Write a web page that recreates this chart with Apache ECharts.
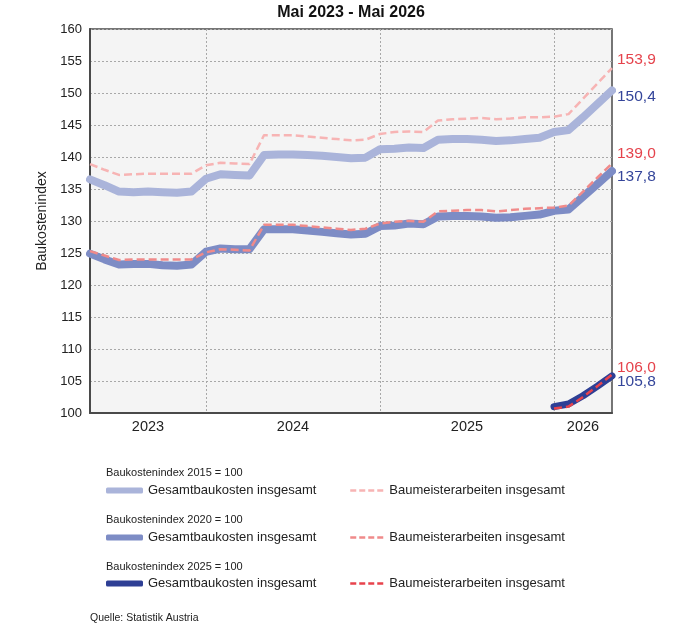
<!DOCTYPE html>
<html lang="de">

<head>
  <meta charset="UTF-8">
  <title>Baukostenindex</title>
  <style>
    * {
      margin: 0;
      padding: 0;
    }
    body {
      width: 682px;
      height: 627px;
      background-color: #ffffff;
    }
    #main {
      width: 682px;
      height: 627px;
    }
  </style>
</head>

<body>
  <div id="main"></div>
  <script src="https://cdn.jsdelivr.net/npm/echarts@6/dist/echarts.min.js"></script>
  <script>
    // Monate Mai 2023 - Mai 2026
    var months = [
      '2023-05', '2023-06', '2023-07', '2023-08', '2023-09', '2023-10', '2023-11', '2023-12',
      '2024-01', '2024-02', '2024-03', '2024-04', '2024-05', '2024-06', '2024-07', '2024-08',
      '2024-09', '2024-10', '2024-11', '2024-12',
      '2025-01', '2025-02', '2025-03', '2025-04', '2025-05', '2025-06', '2025-07', '2025-08',
      '2025-09', '2025-10', '2025-11', '2025-12',
      '2026-01', '2026-02', '2026-03', '2026-04', '2026-05'
    ];
    // Jahresbeschriftung: Text und Monat, unter dem er steht
    var yearLabels = ['2023', '2024', '2025', '2026'];
    var yearLabelMonths = ['2023-09', '2024-07', '2025-07', '2026-03'];

    // Baukostenindex 2015 = 100
    var gesamt2015 = [136.5, 135.6, 134.6, 134.5, 134.6, 134.5, 134.4, 134.6,
      136.6, 137.3, 137.2, 137.1, 140.3, 140.4, 140.4, 140.3, 140.2, 140.0, 139.8, 139.9,
      141.2, 141.3, 141.5, 141.4, 142.7, 142.8, 142.8, 142.7, 142.5, 142.6, 142.8, 143.0,
      143.9, 144.2, 146.2, 148.3, 150.4];
    var baumeister2015 = [138.9, 138.0, 137.2, 137.3, 137.4, 137.4, 137.4, 137.4,
      138.7, 139.1, 139.0, 138.9, 143.4, 143.4, 143.4, 143.2, 143.0, 142.8, 142.6, 142.7,
      143.6, 143.9, 144.0, 143.9, 145.7, 145.9, 146.0, 146.1, 145.9, 146.0, 146.2, 146.2,
      146.3, 146.7, 149.1, 151.5, 153.9];

    // Baukostenindex 2020 = 100
    var gesamt2020 = [124.9, 124.0, 123.2, 123.3, 123.3, 123.1, 123.0, 123.2,
      125.2, 125.7, 125.6, 125.6, 128.7, 128.7, 128.7, 128.5, 128.3, 128.1, 127.9, 128.0,
      129.2, 129.3, 129.6, 129.5, 130.7, 130.8, 130.8, 130.7, 130.5, 130.6, 130.8, 131.0,
      131.6, 131.8, 133.8, 135.8, 137.8];
    var baumeister2020 = [125.3, 124.6, 123.9, 124.0, 124.0, 124.0, 124.0, 124.0,
      125.1, 125.6, 125.5, 125.4, 129.4, 129.4, 129.4, 129.2, 129.0, 128.8, 128.6, 128.8,
      129.6, 129.9, 130.0, 129.9, 131.5, 131.6, 131.7, 131.7, 131.5, 131.7, 131.9, 132.0,
      132.1, 132.4, 134.6, 136.8, 139.0];

    // Baukostenindex 2025 = 100 (ab Jänner 2026)
    var gesamt2025 = [null, null, null, null, null, null, null, null,
      null, null, null, null, null, null, null, null, null, null, null, null,
      null, null, null, null, null, null, null, null, null, null, null, null,
      101.0, 101.4, 102.7, 104.2, 105.8];
    var baumeister2025 = [null, null, null, null, null, null, null, null,
      null, null, null, null, null, null, null, null, null, null, null, null,
      null, null, null, null, null, null, null, null, null, null, null, null,
      100.7, 101.0, 102.5, 104.2, 106.0];

    var FONT = '"Liberation Sans", Arial, sans-serif';
    var RED = '#e5434c';
    var BLUE = '#34459a';

    function fmt(v) {
      return v.toFixed(1).replace('.', ',');
    }

    function gesamtSerie(name, data, color, width, labelDy) {
      return {
        name: name,
        type: 'line',
        data: data,
        symbol: 'none',
        connectNulls: false,
        lineStyle: { color: color, width: width, cap: 'round', join: 'round' },
        itemStyle: { color: color },
        endLabel: {
          show: true,
          formatter: function (p) { return fmt(p.value); },
          color: BLUE,
          fontFamily: FONT,
          fontSize: 15.5,
          distance: 5,
          offset: [0, labelDy]
        },
        emphasis: { disabled: true }
      };
    }

    function baumeisterSerie(name, data, color, labelDy) {
      return {
        name: name,
        type: 'line',
        data: data,
        symbol: 'none',
        lineStyle: { color: color, width: 2.5, type: [8, 4], join: 'round' },
        itemStyle: { color: color },
        endLabel: {
          show: true,
          formatter: function (p) { return fmt(p.value); },
          color: RED,
          fontFamily: FONT,
          fontSize: 15.5,
          distance: 5,
          offset: [0, labelDy]
        },
        emphasis: { disabled: true }
      };
    }

    var legendNames = {
      'G2015': 'Gesamtbaukosten insgesamt',
      'B2015': 'Baumeisterarbeiten insgesamt',
      'G2020': 'Gesamtbaukosten insgesamt',
      'B2020': 'Baumeisterarbeiten insgesamt',
      'G2025': 'Gesamtbaukosten insgesamt',
      'B2025': 'Baumeisterarbeiten insgesamt'
    };

    function legendItem(name, left, top, gesamt) {
      var lg = {
        data: [gesamt ? { name: name, icon: 'roundRect' } : { name: name }],
        left: left,
        top: top,
        padding: 0,
        orient: 'horizontal',
        itemWidth: gesamt ? 37 : 34,
        itemHeight: 6,
        itemGap: 5,
        selectedMode: false,
        formatter: function (n) { return legendNames[n]; },
        textStyle: { fontFamily: FONT, fontSize: 13, color: '#222' }
      };
      if (!gesamt) {
        lg.lineStyle = { width: 2.5, type: [6, 3] };
        lg.itemStyle = { opacity: 0 };
      }
      return lg;
    }

    var myChart = echarts.init(document.getElementById('main'));

    var option = {
      animation: false,
      grid: {
        left: 90,
        right: 70,
        top: 29,
        bottom: 214,
        show: true,
        backgroundColor: '#f4f4f4',
        borderColor: '#4a4a4a',
        borderWidth: 1.5
      },
      xAxis: {
        type: 'category',
        data: months,
        boundaryGap: false,
        axisLine: { show: true, lineStyle: { color: '#4a4a4a', width: 2 } },
        axisTick: { show: false },
        axisLabel: {
          interval: function (index, value) {
            return yearLabelMonths.indexOf(value) >= 0;
          },
          formatter: function (value) {
            return yearLabels[yearLabelMonths.indexOf(value)];
          },
          fontFamily: FONT,
          fontSize: 14.5,
          color: '#222',
          margin: 6
        },
        splitLine: {
          show: true,
          interval: function (index, value) {
            return value.slice(5) === '01';
          },
          lineStyle: { color: '#a8a8a8', width: 1, type: [2, 2] }
        }
      },
      yAxis: {
        type: 'value',
        min: 100,
        max: 160,
        interval: 5,
        name: 'Baukostenindex',
        nameLocation: 'middle',
        nameRotate: 90,
        nameGap: 41,
        nameTextStyle: { fontFamily: FONT, fontSize: 14, color: '#222' },
        axisLine: { show: true, lineStyle: { color: '#4a4a4a', width: 2 } },
        axisTick: { show: false },
        axisLabel: { fontFamily: FONT, fontSize: 13, color: '#222', margin: 8 },
        splitLine: { show: true, lineStyle: { color: '#a8a8a8', width: 1, type: [2, 2] } }
      },
      legend: [
        legendItem('G2015', 106, 484, true),
        legendItem('B2015', 349, 484, false),
        legendItem('G2020', 106, 531, true),
        legendItem('B2020', 349, 531, false),
        legendItem('G2025', 106, 577, true),
        legendItem('B2025', 349, 577, false)
      ],
      graphic: [
        {
          type: 'text', x: 351, y: 13, z: 10,
          style: { text: 'Mai 2023 - Mai 2026', align: 'center', verticalAlign: 'middle',
            font: 'bold 16px "Liberation Sans", Arial, sans-serif', fill: '#111' }
        },
        {
          type: 'text', x: 106, y: 473,
          style: { text: 'Baukostenindex 2015 = 100', verticalAlign: 'middle',
            font: '11px "Liberation Sans", Arial, sans-serif', fill: '#222' }
        },
        {
          type: 'text', x: 106, y: 520,
          style: { text: 'Baukostenindex 2020 = 100', verticalAlign: 'middle',
            font: '11px "Liberation Sans", Arial, sans-serif', fill: '#222' }
        },
        {
          type: 'text', x: 106, y: 567,
          style: { text: 'Baukostenindex 2025 = 100', verticalAlign: 'middle',
            font: '11px "Liberation Sans", Arial, sans-serif', fill: '#222' }
        },
        {
          type: 'text', x: 90, y: 618,
          style: { text: 'Quelle: Statistik Austria', verticalAlign: 'middle',
            font: '10.5px "Liberation Sans", Arial, sans-serif', fill: '#222' }
        }
      ],
      series: [
        gesamtSerie('G2015', gesamt2015, '#aab4da', 8, 6),
        baumeisterSerie('B2015', baumeister2015, '#f7b4b4', -8),
        gesamtSerie('G2020', gesamt2020, '#7d8cc5', 8, 6),
        baumeisterSerie('B2020', baumeister2020, '#f08a8a', -10),
        gesamtSerie('G2025', gesamt2025, '#2e3f95', 7, 6),
        baumeisterSerie('B2025', baumeister2025, '#e8434c', -7)
      ]
    };

    myChart.setOption(option);
  </script>
</body>

</html>
